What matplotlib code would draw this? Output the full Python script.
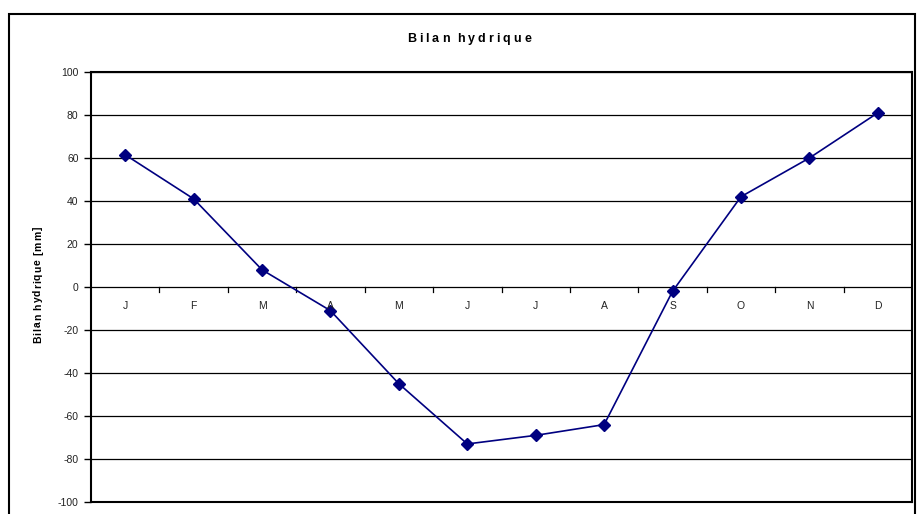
import matplotlib
matplotlib.use("Agg")
import matplotlib.pyplot as plt
from matplotlib.patches import Rectangle
from matplotlib.font_manager import FontProperties

months = ["J", "F", "M", "A", "M", "J", "J", "A", "S", "O", "N", "D"]
bilan = [61.5, 41, 8, -11, -45, -73, -69, -64, -2, 42, 60, 81]
yticks = [-100, -80, -60, -40, -20, 0, 20, 40, 60, 80, 100]
title = "Bilan hydrique"
ylabel = "Bilan hydrique [mm]"

W, H = 917, 514
plt.rcParams['font.family'] = ['Liberation Sans', 'DejaVu Sans']
fig = plt.figure(figsize=(W / 100, H / 100), dpi=100)
renderer = fig.canvas.get_renderer()


def tracked(s, fp, track, space_track):
    """pixel offsets of each char and total width with extra tracking"""
    def w(t):
        if t == "":
            return 0.0
        a, _, _ = renderer.get_text_width_height_descent(t + "x", fp, ismath=False)
        b, _, _ = renderer.get_text_width_height_descent("x", fp, ismath=False)
        return a - b
    offs = []
    extra = 0.0
    for i, ch in enumerate(s):
        offs.append(w(s[:i]) + extra)
        extra += space_track if ch == " " else track
    total = offs[-1] + w(s[-1])
    return offs, total


def spaced_text(s, cx, cy, size, track, space_track, rotation=0):
    fp = FontProperties(family=['Liberation Sans', 'DejaVu Sans'], weight='bold', size=size)
    offs, total = tracked(s, fp, track, space_track)
    for ch, o in zip(s, offs):
        if ch == " ":
            continue
        if rotation == 0:
            px, py = cx - total / 2 + o, cy
            fig.text(px / W, 1 - py / H, ch, fontproperties=fp, ha='left', va='center')
        else:
            px, py = cx, cy + total / 2 - o
            fig.text(px / W, 1 - py / H, ch, fontproperties=fp, ha='left', va='center',
                     rotation=90, rotation_mode='anchor')


# outer chart border
fig.patches.append(Rectangle((9 / W, -0.01), (915 - 9) / W, (H - 14) / H + 0.01,
                             transform=fig.transFigure, fill=False,
                             edgecolor='black', linewidth=1.5))

left, right, top, bottom = 91, 912, 72, 502
ax = fig.add_axes([left / W, 1 - bottom / H, (right - left) / W, (bottom - top) / H])

x = list(range(len(months)))
ax.plot(x, bilan, color='#000080', linewidth=1.2, marker='D', markersize=6.5,
        markerfacecolor='#000080', markeredgecolor='#000080', zorder=3)

ax.set_xlim(-0.5, len(months) - 0.5)
ax.set_ylim(-100, 100)
ax.set_yticks(yticks)
ax.set_yticklabels([str(v) for v in yticks], fontsize=7.5, color='#222222')
ax.tick_params(axis='y', direction='out', length=5, width=1, pad=4)
for v in yticks:
    ax.axhline(v, color='black', linewidth=0.9, zorder=1)

ax.set_xticks([])
# category axis crossing at 0
for i in range(1, len(months)):
    ax.plot([i - 0.5, i - 0.5], [0, -2.3], color='black', linewidth=0.9, zorder=2)
for i, m in enumerate(months):
    ax.text(i, -8.8, m, ha='center', va='center', fontsize=7.5, color='#222222')

for s in ax.spines.values():
    s.set_linewidth(1.5)
    s.set_color('black')

spaced_text(title, 469, 39, 9, 3.0, 1.0)
spaced_text(ylabel, 38, 285, 7.5, 0.9, 0.5, rotation=90)

fig.savefig("out.png", dpi=100)
